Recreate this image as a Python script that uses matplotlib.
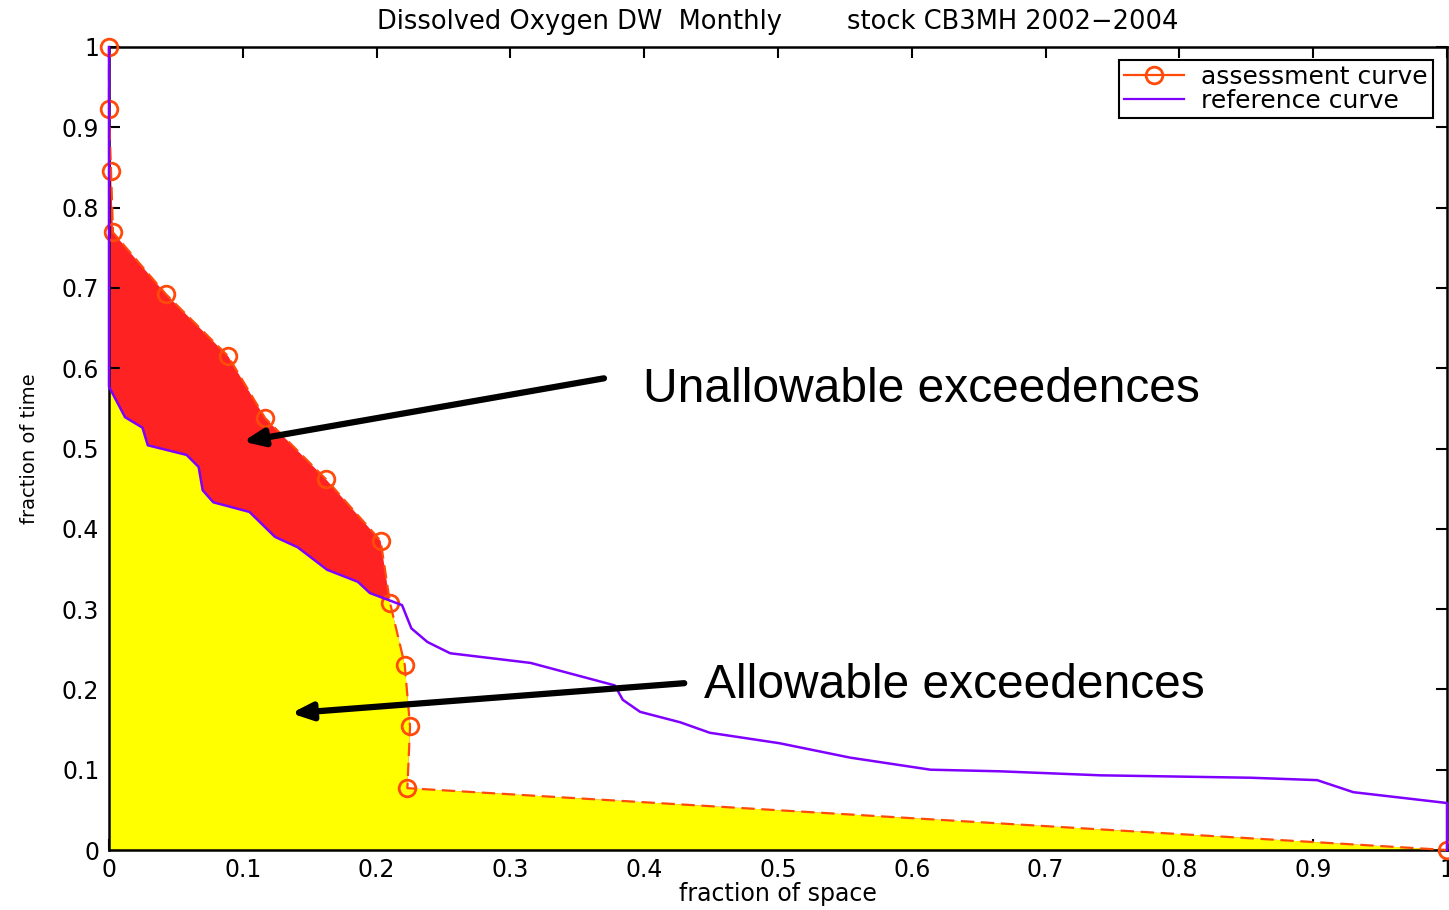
import matplotlib
matplotlib.use("Agg")
import matplotlib.pyplot as plt
from matplotlib.patches import Polygon
from matplotlib.lines import Line2D

# assessment curve (fraction of space vs fraction of time)
assess_x = [0.0, 0.0, 0.0015, 0.003, 0.0426, 0.089, 0.1166, 0.162, 0.203, 0.21, 0.221, 0.225, 0.223, 1.0]
assess_y = [1.0, 0.923, 0.846, 0.769, 0.692, 0.615, 0.538, 0.462, 0.385, 0.308, 0.231, 0.154, 0.077, 0.0]

# reference curve
ref_x = [0.0, 0.0, 0.012, 0.025, 0.029, 0.058, 0.067, 0.070, 0.078, 0.105, 0.124, 0.141,
         0.163, 0.186, 0.195, 0.219, 0.226, 0.238, 0.255, 0.315, 0.378, 0.384, 0.397,
         0.427, 0.449, 0.501, 0.554, 0.614, 0.666, 0.741, 0.853, 0.903, 0.930, 1.0, 1.0]
ref_y = [1.0, 0.577, 0.539, 0.526, 0.504, 0.492, 0.477, 0.448, 0.433, 0.421, 0.390, 0.377,
         0.349, 0.334, 0.320, 0.305, 0.276, 0.259, 0.245, 0.233, 0.205, 0.187, 0.172,
         0.159, 0.146, 0.133, 0.115, 0.100, 0.098, 0.093, 0.090, 0.087, 0.072, 0.0585, 0.0]

ticks = [0, 0.1, 0.2, 0.3, 0.4, 0.5, 0.6, 0.7, 0.8, 0.9, 1]
tick_labels = ["0", "0.1", "0.2", "0.3", "0.4", "0.5", "0.6", "0.7", "0.8", "0.9", "1"]

orange = "#ff4a0a"
purple = "#7f00ff"
txt = 17

fig = plt.figure(figsize=(14.49, 9.10), dpi=100)
ax = fig.add_axes([109 / 1449, 1 - 850 / 910, 1338 / 1449, 803 / 910])

# red = area under assessment curve, yellow = area under both curves
red_poly = Polygon(list(zip(assess_x, assess_y)) + [(0, 0)], closed=True,
                   facecolor="#ff2222", edgecolor="none", zorder=1)
ax.add_patch(red_poly)
yel_poly = Polygon(list(zip(ref_x, ref_y)) + [(0, 0)], closed=True,
                   facecolor="#ffff00", edgecolor="none", zorder=2)
ax.add_patch(yel_poly)
yel_poly.set_clip_path(red_poly)

ax.plot(assess_x, assess_y, color=orange, lw=1.6, ls=(0, (6, 3)),
        marker="o", ms=12, mfc="none", mec=orange, mew=2, zorder=3, clip_on=False)
ax.plot(ref_x, ref_y, color=purple, lw=1.8, zorder=4, clip_on=False)

ax.set_xlim(0, 1)
ax.set_ylim(0, 1)
ax.set_xticks(ticks)
ax.set_xticklabels(tick_labels)
ax.set_yticks(ticks)
ax.set_yticklabels(tick_labels)
ax.tick_params(direction="in", length=8, width=1.5, top=True, right=True,
               labelsize=txt, colors="black")
ax.tick_params(axis="x", pad=6)
ax.tick_params(axis="y", pad=7)
for s in ax.spines.values():
    s.set_linewidth(1.8)

ax.set_title("Dissolved Oxygen DW  Monthly        stock CB3MH 2002\u22122004",
             fontsize=18.5, pad=13)
ax.set_xlabel("fraction of space", fontsize=txt, labelpad=0)
ax.set_ylabel("fraction of time", fontsize=14, labelpad=16)

handles = [Line2D([], [], color=orange, lw=1.6, marker="o", ms=12, mfc="none", mec=orange, mew=2),
           Line2D([], [], color=purple, lw=1.6)]
leg = ax.legend(handles, ["assessment curve", "reference curve"], loc="upper right",
                bbox_to_anchor=(0.9895, 0.9838), borderaxespad=0, fontsize=18,
                fancybox=False, framealpha=1, edgecolor="black",
                handlelength=2.4, labelspacing=0.0, borderpad=0.2, handletextpad=0.7)
leg.get_frame().set_linewidth(1.5)

# annotations
ax.annotate("", xy=(0.098, 0.508), xytext=(0.372, 0.588),
            arrowprops=dict(arrowstyle="-|>,head_length=1.2,head_width=0.5", lw=4.5, color="black"),
            zorder=6)
ax.text(0.399, 0.573, "Unallowable exceedences", fontsize=34.5, family="Liberation Sans",
        va="center", ha="left", zorder=6)
ax.annotate("", xy=(0.134, 0.170), xytext=(0.432, 0.208),
            arrowprops=dict(arrowstyle="-|>,head_length=1.2,head_width=0.5", lw=4.5, color="black"),
            zorder=6)
ax.text(0.445, 0.205, "Allowable exceedences", fontsize=34.5, family="Liberation Sans",
        va="center", ha="left", zorder=6)

fig.savefig("out.png", dpi=100)
